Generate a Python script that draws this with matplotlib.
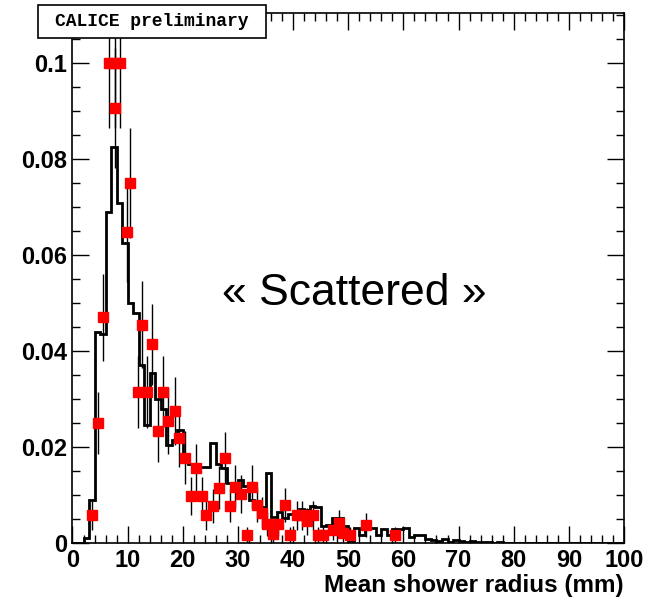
import numpy as np
import matplotlib
matplotlib.use("Agg")
import matplotlib.pyplot as plt
from matplotlib.patches import Rectangle
from matplotlib.ticker import MultipleLocator, FuncFormatter

plt.rcParams.update({
    "font.family": ["Liberation Sans", "DejaVu Sans"],
    "axes.linewidth": 1.2,
})

# ----------------------------
# Data
# ----------------------------
bin_edges = np.arange(0, 101, 1)

# simulated histogram, 1 mm bins from 0 to 100
hist_vals = [
    0, 0, 0.001, 0.009, 0.044, 0.0435, 0.069, 0.0825, 0.0708, 0.0625,
    0.050, 0.048, 0.037, 0.0245, 0.0355, 0.030, 0.028, 0.0205, 0.0215, 0.0235,
    0.0185, 0.0165, 0.016, 0.0158, 0.0158, 0.0208, 0.0165, 0.0156, 0.0125, 0.0115,
    0.0132, 0.0118, 0.009, 0.0085, 0.0075, 0.0145, 0.0055, 0.0065, 0.0052, 0.006,
    0.0055, 0.007, 0.0068, 0.0078, 0.0076, 0.0035, 0.0037, 0.0052, 0.0052, 0.0035,
    0.0005, 0.0031, 0.0017, 0.0031, 0.0031, 0.0017, 0.003, 0.0017, 0.003, 0.003,
    0.0031, 0.0013, 0.0017, 0.0017, 0.0009, 0.0006, 0.0004, 0.0008, 0.0003, 0.0006,
    0.0004, 0.0002, 0.0004, 0.0002, 0.0003, 0.0002, 0.0001, 0.0002, 0, 0,
    0, 0, 0, 0, 0, 0, 0, 0, 0, 0,
    0, 0, 0, 0, 0, 0, 0, 0, 0, 0,
]

# data points
data_x = [
    3.5, 4.7, 5.6, 6.7, 7.7, 8.7, 7.7, 9.8, 10.5, 11.9,
    12.6, 13.6, 14.5, 15.5, 16.4, 17.4, 18.5, 19.4, 20.4, 21.5,
    22.4, 23.4, 24.3, 25.4, 26.5, 27.6, 28.5, 29.4, 30.5, 31.6,
    32.5, 33.4, 34.4, 35.3, 36.3, 37.3, 38.5, 39.5, 40.7, 41.6,
    42.5, 43.7, 44.5, 45.4, 47.2, 48.3, 49.0, 50.3, 53.3, 58.4,
]
data_y = [
    0.0058, 0.025, 0.047, 0.100, 0.100, 0.100, 0.0906, 0.0648, 0.075, 0.0315,
    0.0455, 0.0315, 0.0414, 0.0233, 0.0315, 0.0254, 0.0275, 0.0218, 0.0178, 0.0098,
    0.0156, 0.0098, 0.0058, 0.0077, 0.0115, 0.0177, 0.0078, 0.0117, 0.0102, 0.0017,
    0.0117, 0.0080, 0.0063, 0.0040, 0.0018, 0.0040, 0.0079, 0.0017, 0.0058, 0.0058,
    0.0045, 0.0058, 0.0017, 0.0017, 0.0027, 0.0042, 0.0020, 0.0017, 0.0038, 0.0017,
]
data_err = [
    0.003, 0.0065, 0.009, 0.0135, 0.0135, 0.0135, 0.0125, 0.0105, 0.0115, 0.0075,
    0.009, 0.0075, 0.0085, 0.0065, 0.0075, 0.0068, 0.007, 0.006, 0.0055, 0.004,
    0.005, 0.004, 0.003, 0.0035, 0.0045, 0.0055, 0.0035, 0.0045, 0.004, 0.0017,
    0.0045, 0.0036, 0.0032, 0.0025, 0.0017, 0.0025, 0.0036, 0.0017, 0.003, 0.003,
    0.0028, 0.003, 0.0017, 0.0017, 0.0021, 0.0027, 0.0018, 0.0017, 0.0025, 0.0017,
]

y_ticks = [0, 0.02, 0.04, 0.06, 0.08, 0.1]

# ----------------------------
# Figure
# ----------------------------
fig = plt.figure(figsize=(6.5, 6.0), dpi=100)
ax = fig.add_axes([0.1115, 0.095, 0.8485, 0.883])

ax.stairs(hist_vals, bin_edges, color="black", linewidth=2.0, zorder=2)
ax.errorbar(data_x, data_y, yerr=data_err, fmt="s", color="red", mec="red",
            ms=7, ecolor="black", elinewidth=1.0, capsize=0, zorder=3)

ax.set_xlim(0, 100)
ax.set_ylim(0, 0.1104)

ax.xaxis.set_major_locator(MultipleLocator(10))
ax.xaxis.set_minor_locator(MultipleLocator(2))
ax.set_yticks(y_ticks)
ax.yaxis.set_minor_locator(MultipleLocator(0.005))
ax.yaxis.set_major_formatter(FuncFormatter(lambda v, p: "0" if v == 0 else f"{v:g}"))

ax.tick_params(which="both", direction="in", top=True, right=True, width=1.0)
ax.tick_params(which="major", length=12, labelsize=17, pad=4)
ax.tick_params(which="minor", length=6)
for lab in ax.get_xticklabels() + ax.get_yticklabels():
    lab.set_fontweight("bold")

ax.set_xlabel("Mean shower radius (mm)", loc="right", fontsize=17.5,
              fontweight="bold", labelpad=2)

ax.text(51, 0.052, "« Scattered »", fontsize=32, ha="center", va="center",
        zorder=4)

# CALICE label box over the top-left of the frame
fig.patches.append(Rectangle((38 / 650, 1 - 38 / 600), 228 / 650, 33 / 600,
                             transform=fig.transFigure, facecolor="white",
                             edgecolor="black", linewidth=1.2, zorder=5))
fig.text(152 / 650, 1 - 21.5 / 600, "CALICE preliminary",
         family=["Liberation Mono", "DejaVu Sans Mono"], fontweight="bold",
         fontsize=13, ha="center", va="center", zorder=6)

fig.savefig("out.png", dpi=100, facecolor="white")
